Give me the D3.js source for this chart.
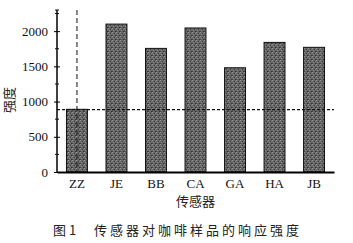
<!DOCTYPE html>
<html>
<head>
<meta charset="utf-8">
<script src="https://cdn.jsdelivr.net/npm/d3@7"></script>
<style>
  body { margin: 0; background: #fff; }
  .serif { font-family: "Liberation Serif", "DejaVu Serif", serif; }
  .cjk { font-family: "Noto Sans CJK SC", sans-serif; }
</style>
</head>
<body>
<svg id="chart" width="353" height="243"></svg>
<script>
const sensors = ['ZZ', 'JE', 'BB', 'CA', 'GA', 'HA', 'JB'];
const intensity = [890, 2100, 1755, 2045, 1480, 1840, 1770];
const majorTicks = [0, 500, 1000, 1500, 2000];
const minorTicks = [250, 750, 1250, 1750, 2250];
const threshold = 885;

const svg = d3.select('#chart');
const m = { top: 10, right: 19, bottom: 71, left: 57 };
const W = 353, H = 243;

const x = d3.scaleBand().domain(sensors).range([m.left, W - m.right]).paddingInner(0.47).paddingOuter(0.24);
const y = d3.scaleLinear().domain([0, 2300]).range([H - m.bottom, m.top]);

// noisy gray texture for the bars
const defs = svg.append('defs');
const pat = defs.append('pattern').attr('id', 'tex').attr('patternUnits', 'userSpaceOnUse')
  .attr('width', 4).attr('height', 4);
pat.append('rect').attr('width', 4).attr('height', 4).attr('fill', '#666');
pat.append('rect').attr('x', 0).attr('y', 0).attr('width', 1).attr('height', 1).attr('fill', '#999');
pat.append('rect').attr('x', 2).attr('y', 1).attr('width', 1).attr('height', 1).attr('fill', '#3c3c3c');
pat.append('rect').attr('x', 1).attr('y', 2).attr('width', 1).attr('height', 1).attr('fill', '#8a8a8a');
pat.append('rect').attr('x', 3).attr('y', 3).attr('width', 1).attr('height', 1).attr('fill', '#333');
pat.append('rect').attr('x', 3).attr('y', 1).attr('width', 1).attr('height', 1).attr('fill', '#7c7c7c');
pat.append('rect').attr('x', 0).attr('y', 3).attr('width', 1).attr('height', 1).attr('fill', '#444');

svg.append('g').selectAll('rect').data(sensors).join('rect')
  .attr('x', d => x(d))
  .attr('y', (d, i) => y(intensity[i]))
  .attr('width', x.bandwidth())
  .attr('height', (d, i) => y(0) - y(intensity[i]))
  .attr('fill', 'url(#tex)')
  .attr('stroke', '#111')
  .attr('stroke-width', 1);

// reference lines
svg.append('line')
  .attr('x1', m.left).attr('x2', W - m.right)
  .attr('y1', y(threshold)).attr('y2', y(threshold))
  .attr('stroke', '#111').attr('stroke-width', 1.2).attr('stroke-dasharray', '3,2');
svg.append('line')
  .attr('x1', x('ZZ') + x.bandwidth() / 2).attr('x2', x('ZZ') + x.bandwidth() / 2)
  .attr('y1', y(2300)).attr('y2', y(0))
  .attr('stroke', '#111').attr('stroke-width', 1).attr('stroke-dasharray', '5,3');

// y axis
const ya = svg.append('g').attr('transform', `translate(${m.left},0)`)
  .call(d3.axisLeft(y).tickValues(majorTicks).tickFormat(d3.format('d')).tickSize(3).tickPadding(6));
ya.attr('font-family', null);
ya.select('.domain').attr('d', `M0,${y(2300)}V${y(0)}`).attr('stroke-width', 1.5);
ya.selectAll('text').attr('class', 'serif').attr('font-size', 13).attr('fill', '#111');
ya.selectAll('.tick line').attr('x2', 3).attr('x1', -3);
svg.append('g').selectAll('line').data(minorTicks).join('line')
  .attr('x1', m.left - 2).attr('x2', m.left + 2)
  .attr('y1', d => y(d)).attr('y2', d => y(d))
  .attr('stroke', '#111');
ya.append('line').attr('x1', -2).attr('x2', 2).attr('y1', y(2300)).attr('y2', y(2300)).attr('stroke', '#111');

// x axis
const xa = svg.append('g').attr('transform', `translate(0,${y(0)})`)
  .call(d3.axisBottom(x).tickSize(0).tickPadding(7));
xa.attr('font-family', null);
xa.select('.domain').attr('stroke-width', 1.8);
xa.selectAll('text').attr('class', 'serif').attr('font-size', 13).attr('fill', '#111');

// titles
svg.append('text').attr('class', 'cjk')
  .attr('transform', `translate(14,${(y(0) + y(2300)) / 2 + 9}) rotate(-90)`)
  .attr('text-anchor', 'middle').attr('font-size', 13).attr('fill', '#222')
  .text('强度');
svg.append('text').attr('class', 'cjk')
  .attr('x', (m.left + W - m.right) / 2).attr('y', 206)
  .attr('text-anchor', 'middle').attr('font-size', 13).attr('fill', '#222')
  .text('传感器');
svg.append('text').attr('class', 'cjk')
  .attr('x', 53).attr('y', 235)
  .attr('font-size', 13).attr('fill', '#222')
  .text('图 1');
svg.append('text').attr('class', 'cjk')
  .attr('x', 94).attr('y', 235)
  .attr('font-size', 13).attr('fill', '#222').attr('letter-spacing', 3)
  .text('传感器对咖啡样品的响应强度');
</script>
</body>
</html>
